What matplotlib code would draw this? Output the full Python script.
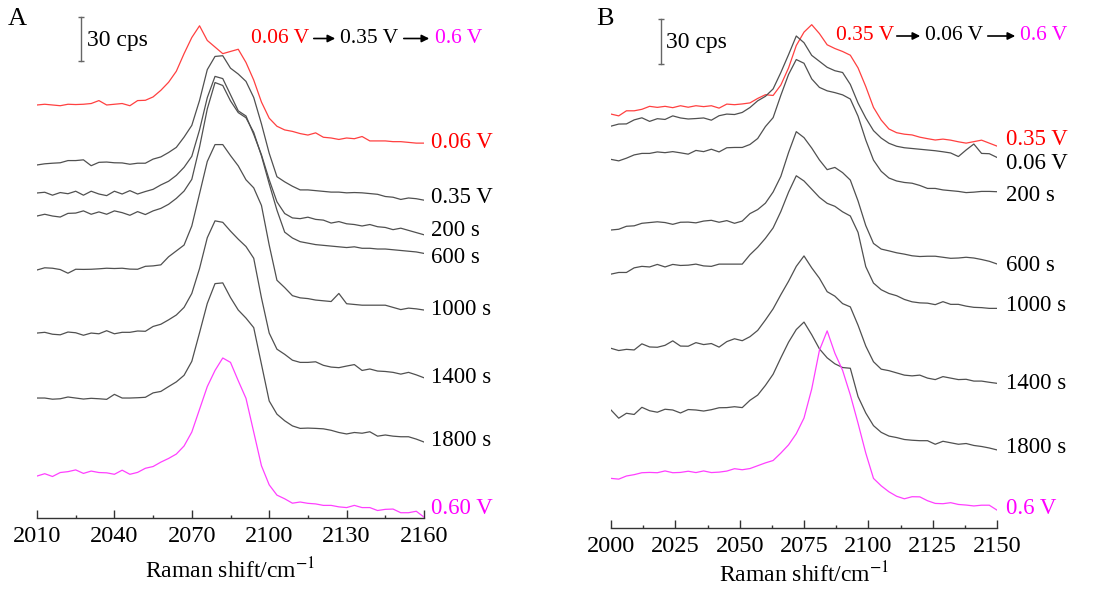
import numpy as np
import matplotlib.pyplot as plt
from matplotlib.ticker import MultipleLocator
from matplotlib.patches import FancyArrowPatch

plt.rcParams['font.family'] = 'Liberation Serif'
plt.rcParams['mathtext.fontset'] = 'stix'

# =============================================================================
# Panel A: 0.06 V -> 0.35 V -> 0.6 V  (intensity in cps, relative to first point)
# =============================================================================
WN_A = np.arange(2010, 2161, 3)

A_006V = [0, 0.5, 0, -0.5, 0.5, 0.3, 0.5, 1.0, 3.0, 0,
          0.5, 1.0, -0.5, 3.0, 3.2, 5.5, 10, 15.5, 23, 35,
          46, 54, 44, 39.5, 35, 36.5, 38, 29, 17, 2,
          -9, -14.5, -17, -18, -19.5, -20.5, -19, -22, -22.5, -23.5,
          -22.5, -23, -21.5, -24.5, -24.5, -24.5, -25, -25, -25.5, -26,
          -26]
A_035V = [0, 0.8, 1.2, 1.5, 3.0, 3.0, 3.5, -0.5, 1.8, 2.0,
          1.5, 1.4, 0.5, 1.2, 1.2, 4.0, 5.5, 8.5, 12, 19,
          27, 44, 65, 74, 74.5, 66, 62, 57, 46, 28,
          8, -8, -11.5, -14.5, -17, -17, -17.5, -18, -18.5, -18.5,
          -19, -18.8, -19, -19.5, -20, -21.5, -22, -23.5, -22.5, -23,
          -24]
A_200S = [0, 0.5, -1.5, 0.3, -0.5, 1.2, -1.5, 1.2, -0.7, -1.8,
          1.2, -0.7, 1.6, -0.7, 1.0, 2.5, 5.5, 8.0, 12, 17.5,
          25, 43, 65, 79.5, 78, 67, 56, 52.5, 40, 26,
          9, -6, -14, -17, -17.5, -16.5, -18, -18.5, -20.5, -19.5,
          -21, -21.5, -22.5, -21.5, -23, -23.5, -25, -24, -25.5, -27,
          -28.5]
A_600S = [0, 1.2, 0, -0.7, 1.8, 2.0, 3.5, 1.2, 2.8, 1.2,
          3.5, 2.3, 0.5, 3.0, 1.0, 3.5, 5.2, 8.0, 12, 17,
          25, 47, 73, 91, 89, 78.5, 70.5, 67, 57, 41,
          22, 4, -11, -15, -17.5, -18.5, -19.5, -20, -20.5, -21,
          -21.5, -21, -22, -22, -22.5, -22.5, -23, -23.5, -24, -24.5,
          -25.5]
A_1000S = [0, 1.5, 1.2, 0.3, -2.2, 0.5, 0.4, 0.5, 0.8, 1.2,
           1.0, 1.2, 0.6, 0.5, 2.5, 2.8, 3.5, 9, 13, 17,
           30, 52, 74, 85.5, 85.5, 78, 71, 61.5, 56, 44,
           17, -7, -12, -17.5, -19, -19.5, -20.5, -21, -21.5, -16,
           -23, -23.5, -24, -24, -24, -24, -25.5, -27, -26, -26.5,
           -27.3]
A_1400S = [0, 0.5, -0.8, -1.2, 0.7, 0.2, -1.5, 0, -0.5, 1.6,
           -0.5, 0.5, 0.5, 1.4, 1.2, 4.5, 6, 9, 12.3, 17.5,
           27, 44, 65, 76.5, 75.5, 69.5, 64, 59, 51, 24,
           0, -11, -14.5, -18.5, -20, -20, -19.6, -22, -23.2, -23.6,
           -22.5, -21.5, -25.5, -24.5, -25.9, -26.2, -26.8, -28, -26.8, -28.5,
           -30.5]
A_1800S = [0, 0, -0.8, -0.5, 0.7, 0, -0.7, -0.2, -0.5, -0.9,
           2.5, 0, 0, 0.2, 0.5, 3.5, 4.5, 7.8, 11, 15.5,
           25, 44.5, 64.5, 78, 78.5, 68.5, 60, 54.5, 48, 23,
           -2, -11, -15.5, -19, -20.7, -20.5, -20.7, -21, -22, -23.5,
           -24.5, -23.5, -24, -23, -26, -25.2, -26, -26.4, -26.4, -28,
           -30]
A_060V = [0, 1.6, -0.3, 2.4, 3.0, 4.2, 1.8, 3.4, 2.4, 2.2,
          1.2, 4.0, 1.2, 2.5, 5.3, 6.5, 9.5, 12, 15, 20.5,
          30, 45.5, 61, 72, 80.5, 77.5, 65, 53, 30, 7,
          -6, -13, -15.5, -18.5, -17.7, -18.6, -19, -20, -20, -21,
          -21.5, -20, -21.5, -21.5, -23.5, -22.7, -22.5, -25, -25, -24,
          -28]

A_SPECTRA = [A_006V, A_035V, A_200S, A_600S, A_1000S, A_1400S, A_1800S, A_060V]
A_OFFSET = [281.6, 240.7, 221.6, 205.9, 169.1, 126.1, 81.8, 28.6]
A_LABELS = ['0.06 V', '0.35 V', '200 s', '600 s', '1000 s', '1400 s', '1800 s', '0.60 V']

# =============================================================================
# Panel B: 0.35 V -> 0.06 V -> 0.6 V
# =============================================================================
WN_B = np.arange(2000, 2151, 3)

B_035V = [0, -1.2, 2.2, 2.2, 3.2, 5.2, 4.5, 5.2, 4.3, 5.6,
          4.6, 5.6, 5.0, 5.6, 4.0, 6.7, 6.3, 6.8, 7.5, 10.5,
          13, 12.5, 19.5, 31, 46, 55, 60, 54, 46.5, 44,
          42, 39.5, 31, 18.5, 4.5, -4, -10, -12.5, -13.5, -14,
          -15.5, -16.5, -17.4, -16.8, -17.5, -18.6, -19.5, -18.5, -17.5, -19.5,
          -21.5]
B_006V = [0, 1.4, 1.5, 4.2, 5.6, 3.2, 5.0, 4.5, 6.9, 5.5,
          4.8, 5.1, 5.5, 4.0, 7.0, 8.1, 7.8, 9.2, 12.5, 17,
          20, 25, 36, 48, 60.5, 56, 47.5, 43.5, 39.5, 37.2,
          36, 28, 15.5, 5.5, -3, -8, -11.5, -13.5, -14.5, -15,
          -15.5, -16, -16.5, -17.2, -18, -20.4, -16, -12, -18.3, -18.5,
          -21]
B_200S = [0, -1, 0.8, 3, 4, 4, 5, 4.5, 5.2, 4.4,
          3.5, 6, 5.2, 6.8, 5, 7.8, 8, 8, 10, 14,
          22, 28, 43, 57, 67, 64.5, 54, 48.3, 46, 44.8,
          43.3, 40.5, 29, 13, -0.5, -8, -12.5, -14.5, -15.5, -16,
          -17.5, -19.5, -19.5, -20.5, -21, -21.5, -22.3, -22, -21.5, -21.5,
          -21.7]
B_600S = [0, 0.5, 2.5, 2.8, 4.5, 5.0, 5.5, 5.0, 3.8, 5.2,
          5.3, 4.8, 6.0, 6.5, 5.2, 6.3, 4.5, 6.0, 11, 13.7,
          18, 25.5, 36, 52, 66, 62, 55, 47, 40.5, 42,
          38.5, 33.5, 19.5, 3, -9, -12.8, -14, -15.3, -16.2, -17.3,
          -17.8, -17.6, -17.6, -18.3, -19, -18.8, -18.3, -18.8, -19.8, -21,
          -22.8]
B_1000S = [0, 1.1, 1.1, 4.2, 5.2, 4.8, 6.5, 4.8, 6.5, 5.8,
           6.0, 6.7, 5.5, 5.2, 6.7, 6.7, 6.7, 6.7, 13, 18,
           24, 31, 42, 55, 66, 62.5, 57, 51.5, 47.5, 45.5,
           41.8, 39, 28, 5, -6, -10.5, -13, -14.5, -17, -18.6,
           -19.3, -19.5, -20.5, -18.5, -20.3, -20.3, -21.5, -22.3, -22.5, -23,
           -23]
B_1400S = [0, -1.5, -0.7, -1.1, 3.0, 0.9, 0.7, 2.0, 5.0, 1.5,
           1.4, 3.8, 2.5, 3.2, 0.8, 4.5, 6.4, 5.1, 7.8, 12,
           19, 26.5, 36, 45, 55, 62, 54, 47, 38, 35,
           30, 27.8, 15.5, 1.5, -9, -14, -15, -16.5, -18, -18.5,
           -18, -20, -21, -19, -20, -21, -20.8, -22, -22, -22.8,
           -23.5]
B_1800S = [0, -5.5, -2.2, -3.0, 1.8, -0.5, -1.5, 0.5, 0, -2,
           0.3, 0, -0.7, 0.2, 1.5, 1.6, 2.2, 1.6, 6.5, 10,
           16.5, 24, 35, 45.5, 54, 59, 50.5, 41, 35, 31,
           28.5, 28, 9, -2, -10.5, -15, -17.5, -18.5, -19.8, -20.3,
           -20.6, -20.6, -23, -21, -22, -23, -22.5, -23.8, -24.5, -25.5,
           -26.8]
B_060V = [0, -0.5, 1.6, 2.5, 3.8, 4.0, 3.8, 5.0, 3.8, 4.0,
          4.8, 3.9, 5.0, 3.9, 4.2, 4.9, 6.5, 5.8, 6.6, 8.5,
          10.4, 12, 17, 22.5, 30, 40.5, 60, 86, 99, 84,
          72.5, 56, 37, 17, 0, -5, -9, -12, -13.7, -12.3,
          -12.4, -15, -16.8, -17, -16.3, -17.5, -17.9, -18.5, -18, -18,
          -21.3]

B_SPECTRA = [B_035V, B_006V, B_200S, B_600S, B_1000S, B_1400S, B_1800S, B_060V]
B_OFFSET = [277.8, 269.7, 247.4, 200.0, 170.4, 120.6, 79.2, 33.3]
B_LABELS = ['0.35 V', '0.06 V', '200 s', '600 s', '1000 s', '1400 s', '1800 s', '0.6 V']

RED = '#ff0000'
MAGENTA = '#ff00ff'
LINE_COLORS = ['#ff4040'] + ['#505050'] * 6 + ['#ff40ff']
TEXT_COLORS = [RED] + ['black'] * 6 + [MAGENTA]
A_NUDGE = [0.7, 2, 2.7, -2.7, 0.7, 0, 0.7, 6]
B_NUDGE = [4.7, -4, -2.7, -0.7, 2, 0, 1.3, 1.3]

W, H = 1105, 589
fig = plt.figure(figsize=(W / 100, H / 100), dpi=100)


def px(x, y):
    # figure fraction from pixel position (origin top-left)
    return x / W, 1 - y / H


def setup(ax, xlim, ylim, major, minor, labelpad):
    ax.set_xlim(*xlim)
    ax.set_ylim(*ylim)
    for s in ['top', 'left', 'right']:
        ax.spines[s].set_visible(False)
    ax.spines['bottom'].set_color('#333333')
    ax.spines['bottom'].set_linewidth(1.0)
    ax.set_yticks([])
    ax.xaxis.set_major_locator(MultipleLocator(major))
    ax.xaxis.set_minor_locator(MultipleLocator(minor))
    ax.tick_params(axis='x', which='major', direction='in', length=5.5,
                   width=1, color='#333333', labelsize=17.5, pad=5.5)
    ax.tick_params(axis='x', which='minor', direction='in', length=2.5,
                   width=1, color='#333333')
    ax.set_xlabel('Raman shift/cm$^{-1}$', fontsize=17, labelpad=labelpad)
    ax.patch.set_alpha(0)


def draw(ax, wn, spectra, offsets, labels, nudges, xlab):
    for spec, off, lab, lc, tc, dy in zip(spectra, offsets, labels,
                                          LINE_COLORS, TEXT_COLORS, nudges):
        y = np.array(spec) + off
        ax.plot(wn, y, color=lc, lw=0.9)
        ax.text(xlab, y[-1] + dy, lab, color=tc, fontsize=16.5,
                ha='left', va='center', clip_on=False)


def scale_bar(ax, x, y0, tx, ty):
    ax.plot([x, x], [y0, y0 + 30], color='#666666', lw=1,
            marker='_', ms=4, mew=1)
    ax.text(tx, ty, '30 cps', fontsize=17, ha='left', va='center')


def header(parts, arrows, y):
    for x, txt, col in parts:
        fig.text(*px(x, y), txt, color=col, fontsize=15.5, ha='left', va='center')
    for x0, x1 in arrows:
        fig.add_artist(FancyArrowPatch(
            px(x0, y), px(x1, y), transform=fig.transFigure,
            arrowstyle='-|>', mutation_scale=11, lw=1.2, color='black'))


# ---- panel A ----
axA = fig.add_axes([37 / W, 1 - 518 / H, 387 / W, 508 / H])
setup(axA, (2010, 2160), (0, 508 * 30 / 44), 30, 15, 8)
draw(axA, WN_A, A_SPECTRA, A_OFFSET, A_LABELS, A_NUDGE, 2162.7)
scale_bar(axA, 2027.2, 311.7, 2029.4, 325.3)

# ---- panel B ----
axB = fig.add_axes([611 / W, 1 - 528 / H, 386 / W, 518 / H])
setup(axB, (2000, 2150), (0, 518 * 30 / 44.7), 25, 12.5, 4)
draw(axB, WN_B, B_SPECTRA, B_OFFSET, B_LABELS, B_NUDGE, 2153.5)
scale_bar(axB, 2019.4, 311.3, 2021.4, 325.8)

# panel letters
fig.text(*px(8, 19), 'A', fontsize=19, ha='left', va='center')
fig.text(*px(596, 19), 'B', fontsize=19, ha='left', va='center')

# potential sequence headers
header([(251, '0.06 V', RED), (340, '0.35 V', 'black'), (435, '0.6 V', MAGENTA)],
       [(311, 338), (401, 432)], 38.5)
header([(836, '0.35 V', RED), (925, '0.06 V', 'black'), (1020, '0.6 V', MAGENTA)],
       [(894, 923), (985, 1018)], 36)

fig.savefig('out.png', dpi=100, facecolor='white')
